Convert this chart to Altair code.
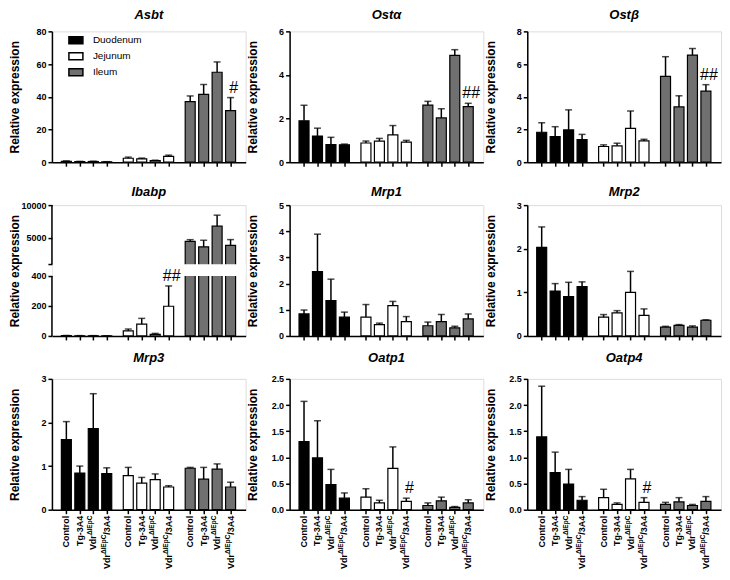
import altair as alt
import pandas as pd

W, H = 194, 131
GROUP_STEP = 4.6
X_DOMAIN = [-0.7, 12.95]
FONT = "Liberation Sans"

tissues = ["Duodenum", "Jejunum", "Ileum"]
tissue_colors = ["#000000", "#ffffff", "#707070"]
genotypes = ["Control", "Tg-3A4", "VdrΔIEpC", "VdrΔIEpC/3A4"]
label_tail = ["Control", "Tg-3A4", "", "/3A4"]
label_sup = ["", "", "ΔIEpC", "ΔIEpC"]
label_head = ["", "", "Vdr", "Vdr"]

# values: 4 genotypes x Duodenum, Jejunum, Ileum
asbt_mean = [0.5, 0.3, 0.4, 0.2, 2.4, 2.0, 0.9, 3.5, 37.0, 41.5, 55.0, 31.5]
asbt_sem = [0.3, 0.2, 0.2, 0.1, 0.7, 0.5, 0.3, 0.8, 3.5, 6.0, 6.3, 8.0]
asbt_sig = ["", "", "", "", "", "", "", "", "", "", "", "#"]

osta_mean = [1.9, 1.2, 0.81, 0.8, 0.88, 0.97, 1.25, 0.92, 2.62, 2.03, 4.9, 2.55]
osta_sem = [0.71, 0.36, 0.33, 0.03, 0.09, 0.12, 0.43, 0.08, 0.17, 0.42, 0.26, 0.15]
osta_sig = ["", "", "", "", "", "", "", "", "", "", "", "##"]

ostb_mean = [1.83, 1.57, 1.97, 1.38, 0.96, 1.0, 2.07, 1.3, 5.25, 3.38, 6.55, 4.34]
ostb_sem = [0.58, 0.6, 1.23, 0.32, 0.1, 0.16, 1.06, 0.1, 1.2, 0.68, 0.4, 0.4]
ostb_sig = ["", "", "", "", "", "", "", "", "", "", "", "##"]

ibabp_mean = [2, 1, 1, 0.5, 34, 79, 11, 198, 4490, 3650, 6790, 3880]
ibabp_sem = [1, 1, 1, 0.5, 12, 38, 6, 135, 250, 1000, 1680, 870]
ibabp_sig = ["", "", "", "", "", "", "", "##", "", "", "", ""]

mrp1_mean = [0.84, 2.46, 1.35, 0.72, 0.72, 0.43, 1.16, 0.55, 0.39, 0.55, 0.31, 0.65]
mrp1_sem = [0.15, 1.43, 0.82, 0.19, 0.48, 0.06, 0.16, 0.19, 0.14, 0.27, 0.06, 0.19]
mrp1_sig = [""] * 12

mrp2_mean = [2.03, 1.03, 0.9, 1.13, 0.43, 0.53, 1.0, 0.47, 0.2, 0.24, 0.2, 0.36]
mrp2_sem = [0.47, 0.17, 0.33, 0.11, 0.06, 0.05, 0.48, 0.15, 0.02, 0.02, 0.03, 0.01]
mrp2_sig = [""] * 12

mrp3_mean = [1.61, 0.84, 1.86, 0.83, 0.78, 0.61, 0.69, 0.52, 0.95, 0.7, 0.93, 0.52]
mrp3_sem = [0.41, 0.16, 0.8, 0.13, 0.19, 0.13, 0.13, 0.03, 0.02, 0.27, 0.12, 0.11]
mrp3_sig = [""] * 12

oatp1_mean = [1.3, 0.99, 0.48, 0.22, 0.24, 0.13, 0.79, 0.16, 0.08, 0.17, 0.045, 0.13]
oatp1_sem = [0.77, 0.71, 0.29, 0.1, 0.16, 0.05, 0.41, 0.06, 0.05, 0.07, 0.015, 0.06]
oatp1_sig = ["", "", "", "", "", "", "", "#", "", "", "", ""]

oatp4_mean = [1.39, 0.71, 0.49, 0.18, 0.23, 0.1, 0.59, 0.14, 0.1, 0.15, 0.08, 0.16]
oatp4_sem = [0.97, 0.39, 0.28, 0.07, 0.16, 0.03, 0.18, 0.09, 0.04, 0.08, 0.02, 0.09]
oatp4_sig = ["", "", "", "", "", "", "", "#", "", "", "", ""]

# broken axis for Ibabp
ibabp_domain = [0, 400, 1000, 10000]
ibabp_break = [400, 1000]
ibabp_ticks = [0, 200, 400, 1000, 5000, 10000]


def make_df(mean, sem, sig):
    rows = []
    for k in range(12):
        g, i = divmod(k, 4)
        rows.append(dict(tissue=tissues[g], genotype=genotypes[i], gi=i,
                         x=g * GROUP_STEP + i, mean=mean[k], top=mean[k] + sem[k],
                         sig=sig[k], tail=label_tail[i], sup=label_sup[i],
                         head=label_head[i]))
    return pd.DataFrame(rows)


def panel(title, mean, sem, sig, ydom, yticks, yfmt, title_offset,
          legend=False, bottom=False, broken=False):
    df = make_df(mean, sem, sig)
    positions = list(df["x"])
    xs = alt.Scale(domain=X_DOMAIN, nice=False, zero=False)
    xaxis = alt.Axis(values=positions, labels=False, title=None, ticks=True,
                     tickSize=4, tickWidth=1.5, tickColor="black",
                     domainColor="black", domainWidth=1.5, grid=False)
    if broken:
        lower_h = 60.1
        gap_h = 11.7
        ys = alt.Scale(domain=ydom, range=[H, H - lower_h, H - lower_h - gap_h, 0],
                       nice=False, zero=False)
    else:
        ys = alt.Scale(domain=ydom, nice=False)
    axis_kw = dict(values=yticks, format=yfmt, title="Relative expression",
                   titleX=-30, titleFont=FONT, titleFontSize=12, titleFontWeight="bold",
                   titleColor="black", labelFont=FONT, labelFontSize=9,
                   labelFontWeight="bold", labelColor="black", labelPadding=2,
                   tickSize=4, tickWidth=1.5, tickColor="black",
                   domainColor="black", domainWidth=1.5, grid=False)
    if broken:
        axis_kw.update(domain=False, zindex=1,
                       labelExpr="datum.value == 1000 ? '' : datum.label")
    yaxis = alt.Axis(**axis_kw)

    X = alt.X("x:Q", scale=xs, axis=xaxis)

    def Y(field):
        return alt.Y(field, type="quantitative", scale=ys, axis=yaxis)

    if legend:
        leg = alt.Legend(title=None, orient="none", legendX=16, legendY=1,
                         symbolType="M-1,-0.5H1V0.5H-1Z", symbolSize=196,
                         symbolStrokeColor="black", symbolStrokeWidth=1.5,
                         labelFont=FONT, labelFontSize=10, labelColor="black",
                         labelOffset=9, rowPadding=1)
    else:
        leg = None

    base = alt.Chart(df)
    bars = base.mark_bar(size=10, stroke="black", strokeWidth=1.2).encode(
        x=X, y=Y("mean"),
        fill=alt.Fill("tissue:N", scale=alt.Scale(domain=tissues, range=tissue_colors),
                      legend=leg))
    err = base.mark_rule(color="black", strokeWidth=1.5).encode(
        x=X, y=Y("mean"), y2="top:Q")
    cap = base.mark_tick(orient="horizontal", size=7, thickness=1.5, color="black").encode(
        x=X, y=Y("top"))
    sigt = base.transform_filter("datum.sig != ''").mark_text(
        font=FONT, fontSize=16, dx=3, dy=-2, baseline="bottom", color="black"
    ).encode(x=X, y=Y("top"), text="sig:N")

    layers = [bars, err, cap]
    if broken:
        gap = alt.Chart(pd.DataFrame({"lo": [ibabp_break[0]], "hi": [ibabp_break[1]]})).mark_rect(
            color="white").encode(x=alt.value(0.8), x2=alt.value(W), y=Y("lo"), y2="hi:Q")
        seg = alt.Chart(pd.DataFrame({"a": [ydom[0], ibabp_break[1]],
                                      "b": [ibabp_break[0], ydom[-1]]})).mark_rule(
            color="black", strokeWidth=1.5).encode(x=alt.value(0), y=Y("a"), y2="b:Q")
        layers += [gap, seg]
    layers.append(sigt)

    if bottom:
        tkw = dict(angle=270, align="right", baseline="middle", font=FONT,
                   fontWeight="bold", color="black")
        ly = alt.value(H + 6)
        w_tail = 19.0
        w_sup = 19.5
        tail = base.mark_text(fontSize=9, **tkw).encode(x=X, y=ly, text="tail:N")
        b3 = base.transform_filter("datum.gi == 2")
        b4 = base.transform_filter("datum.gi == 3")
        sup3 = b3.mark_text(fontSize=6.5, dy=-3, **tkw).encode(x=X, y=ly, text="sup:N")
        head3 = b3.mark_text(fontSize=9, dx=-w_sup, **tkw).encode(x=X, y=ly, text="head:N")
        sup4 = b4.mark_text(fontSize=6.5, dx=-w_tail, dy=-3, **tkw).encode(x=X, y=ly, text="sup:N")
        head4 = b4.mark_text(fontSize=9, dx=-(w_tail + w_sup), **tkw).encode(x=X, y=ly, text="head:N")
        layers += [tail, sup3, head3, sup4, head4]

    return alt.layer(*layers).properties(
        width=W, height=H,
        title=alt.TitleParams(text=title, font=FONT, fontSize=13, fontWeight="bold",
                              fontStyle="italic", color="black", offset=title_offset,
                              anchor="middle"))


p_asbt = panel("Asbt", asbt_mean, asbt_sem, asbt_sig, [0, 80], [0, 20, 40, 60, 80], "d", 5, legend=True)
p_osta = panel("Ostα", osta_mean, osta_sem, osta_sig, [0, 6], [0, 2, 4, 6], "d", 5)
p_ostb = panel("Ostβ", ostb_mean, ostb_sem, ostb_sig, [0, 8], [0, 2, 4, 6, 8], "d", 5)
p_ibabp = panel("Ibabp", ibabp_mean, ibabp_sem, ibabp_sig, ibabp_domain, ibabp_ticks, "d", 2, broken=True)
p_mrp1 = panel("Mrp1", mrp1_mean, mrp1_sem, mrp1_sig, [0, 5], [0, 1, 2, 3, 4, 5], "d", 2)
p_mrp2 = panel("Mrp2", mrp2_mean, mrp2_sem, mrp2_sig, [0, 3], [0, 1, 2, 3], "d", 2)
p_mrp3 = panel("Mrp3", mrp3_mean, mrp3_sem, mrp3_sig, [0, 3], [0, 1, 2, 3], "d", 10, bottom=True)
p_oatp1 = panel("Oatp1", oatp1_mean, oatp1_sem, oatp1_sig, [0, 2.5], [0, 0.5, 1, 1.5, 2, 2.5], ".1f", 10, bottom=True)
p_oatp4 = panel("Oatp4", oatp4_mean, oatp4_sem, oatp4_sig, [0, 2.5], [0, 0.5, 1, 1.5, 2, 2.5], ".1f", 10, bottom=True)

chart = alt.concat(
    p_asbt, p_osta, p_ostb, p_ibabp, p_mrp1, p_mrp2, p_mrp3, p_oatp1, p_oatp4,
    columns=3, spacing={"row": 43, "column": 44}, bounds="flush"
).resolve_scale(
    fill="independent"
).properties(
    padding={"left": 0, "top": 0, "right": 0, "bottom": 0}
).configure_view(stroke=None).configure(background="white")

chart.save("out.html", embed_options={"renderer": "svg", "actions": False})
